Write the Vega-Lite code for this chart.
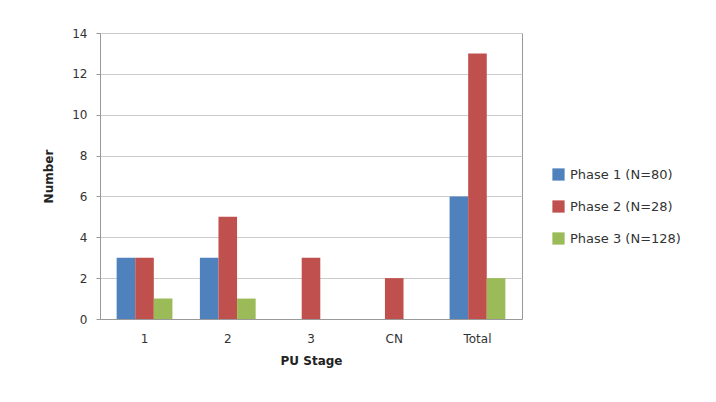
{
  "$schema": "https://vega.github.io/schema/vega-lite/v6.json",
  "width": 422,
  "height": 286,
  "autosize": {"type": "none"},
  "padding": {"left": 100, "top": 33, "right": 194, "bottom": 83},
  "background": "white",
  "config": {
    "font": "DejaVu Sans",
    "view": {"stroke": "#999999", "strokeWidth": 1}
  },
  "data": {
    "values": [
      {"stage": "1", "phase": "Phase 1 (N=80)", "n": 3},
      {"stage": "1", "phase": "Phase 2 (N=28)", "n": 3},
      {"stage": "1", "phase": "Phase 3 (N=128)", "n": 1},
      {"stage": "2", "phase": "Phase 1 (N=80)", "n": 3},
      {"stage": "2", "phase": "Phase 2 (N=28)", "n": 5},
      {"stage": "2", "phase": "Phase 3 (N=128)", "n": 1},
      {"stage": "3", "phase": "Phase 1 (N=80)", "n": 0},
      {"stage": "3", "phase": "Phase 2 (N=28)", "n": 3},
      {"stage": "3", "phase": "Phase 3 (N=128)", "n": 0},
      {"stage": "CN", "phase": "Phase 1 (N=80)", "n": 0},
      {"stage": "CN", "phase": "Phase 2 (N=28)", "n": 2},
      {"stage": "CN", "phase": "Phase 3 (N=128)", "n": 0},
      {"stage": "Total", "phase": "Phase 1 (N=80)", "n": 6},
      {"stage": "Total", "phase": "Phase 2 (N=28)", "n": 13},
      {"stage": "Total", "phase": "Phase 3 (N=128)", "n": 2}
    ]
  },
  "mark": {"type": "bar"},
  "encoding": {
    "x": {
      "field": "stage",
      "type": "nominal",
      "sort": ["1", "2", "3", "CN", "Total"],
      "scale": {"paddingInner": 0.33, "paddingOuter": 0.2},
      "axis": {
        "title": "PU Stage",
        "labelAngle": 0,
        "labelFontSize": 12,
        "labelColor": "#333333",
        "labelPadding": 14,
        "ticks": false,
        "domainColor": "#999999",
        "titleFontSize": 12,
        "titleFontWeight": "bold",
        "titleColor": "#222222",
        "titlePadding": 11
      }
    },
    "xOffset": {"field": "phase", "type": "nominal", "sort": ["Phase 1 (N=80)", "Phase 2 (N=28)", "Phase 3 (N=128)"]},
    "y": {
      "field": "n",
      "type": "quantitative",
      "scale": {"domain": [0, 14]},
      "axis": {
        "title": "Number",
        "values": [0, 2, 4, 6, 8, 10, 12, 14],
        "grid": true,
        "gridColor": "#cccccc",
        "tickSize": 4,
        "tickColor": "#999999",
        "domainColor": "#999999",
        "labelFontSize": 12,
        "labelColor": "#333333",
        "labelPadding": 9,
        "titleFontSize": 12,
        "titleFontWeight": "bold",
        "titleColor": "#222222",
        "titlePadding": 16
      }
    },
    "color": {
      "field": "phase",
      "type": "nominal",
      "sort": ["Phase 1 (N=80)", "Phase 2 (N=28)", "Phase 3 (N=128)"],
      "scale": {"range": ["#4F81BD", "#C0504D", "#9BBB59"]},
      "legend": {
        "title": null,
        "orient": "none",
        "legendX": 452,
        "legendY": 135,
        "symbolType": "square",
        "symbolSize": 150,
        "symbolStrokeWidth": 0,
        "labelFontSize": 13,
        "labelColor": "#333333",
        "rowPadding": 18,
        "labelOffset": 5
      }
    }
  }
}
